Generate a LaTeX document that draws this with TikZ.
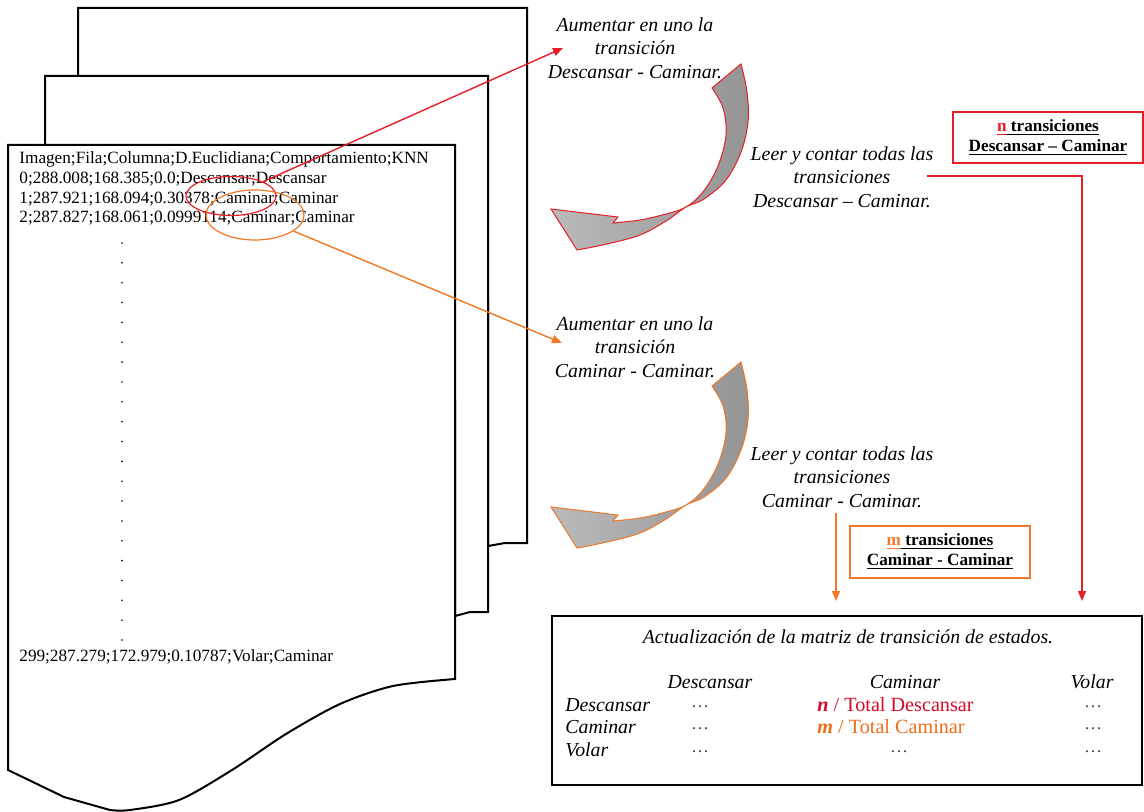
\documentclass[tikz,border=0pt]{standalone}
\usepackage{fontspec}
\setmainfont{Liberation Serif}[
  UprightFont    = {Liberation Serif},
  ItalicFont     = {Liberation Serif Italic},
  BoldFont       = {Liberation Serif Bold},
  BoldItalicFont = {Liberation Serif Bold Italic}]
\usepackage{tikz}
\usetikzlibrary{shapes.geometric,positioning,calc,arrows.meta}
\definecolor{redline}{RGB}{230,30,40}
\definecolor{orgline}{RGB}{240,120,40}
\definecolor{redtxt}{RGB}{215,10,40}
\definecolor{orgtxt}{RGB}{235,110,25}
\tikzset{
  sheet/.style    = {draw=black, line width=1pt, fill=white},
  datarow/.style  = {anchor=west, inner sep=0pt, font=\fontsize{8.6}{9.8}\selectfont},
  stepnote/.style = {align=center, inner sep=0pt, font=\fontsize{9.9}{11.75}\selectfont\itshape},
  countbox/.style = {draw, line width=0.7pt, align=center, inner sep=0pt,
                     font=\fontsize{8.6}{10}\selectfont\bfseries},
  mcell/.style    = {inner sep=0pt, font=\fontsize{9.9}{11}\selectfont\itshape},
  mdots/.style    = {inner sep=0pt, font=\fontsize{9}{11}\selectfont, text=black!70},
  mval/.style     = {anchor=west, inner sep=0pt, font=\fontsize{10.1}{11}\selectfont},
  pick/.style     = {ellipse, draw, line width=0.6pt, inner sep=0pt},
  redarr/.style   = {draw=redline, line width=0.7pt, -{Triangle[length=5pt,width=4pt]}},
  orgarr/.style   = {draw=orgline, line width=0.7pt, -{Triangle[length=5pt,width=4pt]}},
  turnarrow/.pic  = {
    \path[pic actions, left color=black!27, right color=black!42]
      plot[smooth, tension=0.6] coordinates {(741,64) (747,92) (748,122) (741,152)
        (726,180) (704,199) (686,207) (666,221) (640,235) (607,244) (577,250)}
      -- (551,209) -- (618,217) -- (613,223)
      -- plot[smooth, tension=0.6] coordinates {(613,223) (640,220) (666,214)
        (686,207) (703,192) (718,166) (726,135) (723,108) (712,88)}
      -- cycle;
  }
}

\begin{document}
\begin{tikzpicture}[x=0.5pt, y=-0.5pt]
\useasboundingbox (0,0) rectangle (1144,812);
% stacked sheets, back to front
\path[sheet] (78,300) -- (78,8) -- (527,8) -- (527,543) -- (505,543) -- (488,546) -- (488,300) -- cycle;
\path[sheet] (45,400) -- (45,76) -- (488,76) -- (488,612) -- (470,612) -- (455,616) -- (455,400) -- cycle;
\path[sheet] (8,145) -- (455,145) -- (455,679)
  -- plot[smooth] coordinates {(455,679) (393,686) (340,704) (286,734) (232,770) (179,800) (130,810) (110,810)}
  -- (64,797) -- (8,770) -- cycle;
% file contents
\node[datarow] (rowhead) at (19,159) {Imagen;Fila;Columna;D.Euclidiana;Comportamiento;KNN};
\node[datarow] (row0) at (19,179) {0;288.008;168.385;0.0;Descansar;Descansar};
\node[datarow] (row1) at (19,199) {1;287.921;168.094;0.30378;Caminar;Caminar};
\node[datarow] (row2) at (19,218) {2;287.827;168.061;0.0999114;Caminar;Caminar};
\foreach \k in {0,...,20} \fill (122,243+19.85*\k) circle (0.9);
\node[datarow] (rowlast) at (19,657) {299;287.279;172.979;0.10787;Volar;Caminar};
% selected transitions
\node[pick, draw=redline, minimum width=45pt, minimum height=19.5pt] (selD) at (231,196) {};
\node[pick, draw=orgline, minimum width=49pt, minimum height=25pt] (selC) at (255,215) {};
% steps
\node[stepnote] (aum1)  at (635,48)  {Aumentar en uno la\\transición\\Descansar - Caminar.};
\node[stepnote] (leer1) at (842,177) {Leer y contar todas las\\transiciones\\Descansar – Caminar.};
\node[stepnote] (aum2)  at (635,347) {Aumentar en uno la\\transición\\Caminar - Caminar.};
\node[stepnote] (leer2) at (842,477) {Leer y contar todas las\\transiciones\\Caminar - Caminar.};
\pic[draw=redline, line width=0.5pt] at (0,0)   {turnarrow};
\pic[draw=orgline, line width=0.5pt] at (0,298) {turnarrow};
% counts
\node[countbox, draw=redline, minimum width=95pt, minimum height=25.5pt] (nbox) at (1048,137.5)
  {\textcolor{redline}{\underline{n}}\underline{ transiciones}\\\underline{Descansar – Caminar}};
\node[countbox, draw=orgline, minimum width=90pt, minimum height=26pt] (mbox) at (940,552)
  {\textcolor{orgline}{\underline{m}}\underline{ transiciones}\\\underline{Caminar - Caminar}};
% transition matrix
\node[draw, line width=1pt, minimum width=295pt, minimum height=84.5pt, inner sep=0pt] (mtx) at (847,700.5) {};
\node[mcell] (mtitle) at (848,637) {Actualización de la matriz de transición de estados.};
\node[mcell] (cD) at (710,682) {Descansar};
\node[mcell] (cC) at (905,682) {Caminar};
\node[mcell] (cV) at (1092,682) {Volar};
\node[mcell, anchor=west] (rD) at (565,705) {Descansar};
\node[mcell, anchor=west] (rC) at (565,727) {Caminar};
\node[mcell, anchor=west] (rV) at (565,750) {Volar};
\node[mdots] (dD1) at (700,707) {\ldots};
\node[mdots] (dC1) at (700,729) {\ldots};
\node[mdots] (dV1) at (700,752) {\ldots};
\node[mdots] (dV2) at (899,752) {\ldots};
\node[mdots] (dD3) at (1093,707) {\ldots};
\node[mdots] (dC3) at (1093,729) {\ldots};
\node[mdots] (dV3) at (1093,752) {\ldots};
\node[mval, text=redtxt] (nval) at (817,705) {\textbf{\textit{n}} / Total Descansar};
\node[mval, text=orgtxt] (mval) at (817,727) {\textbf{\textit{m}} / Total Caminar};
% connectors
\coordinate (tipD) at (563,48);
\coordinate (tipC) at (562,343);
\draw[redarr] (selD) -- (tipD);
\draw[orgarr] (selC) -- (tipC);
\coordinate (nfrom) at (927,176);
\coordinate (nturn) at (1082,176);
\draw[redarr, shorten >=7pt] (nfrom) -- (nturn) -- (nturn |- mtx.north);
\coordinate (mfrom) at (836,513);
\draw[orgarr, shorten >=7pt] (mfrom) -- (mfrom |- mtx.north);
\end{tikzpicture}
\end{document}
